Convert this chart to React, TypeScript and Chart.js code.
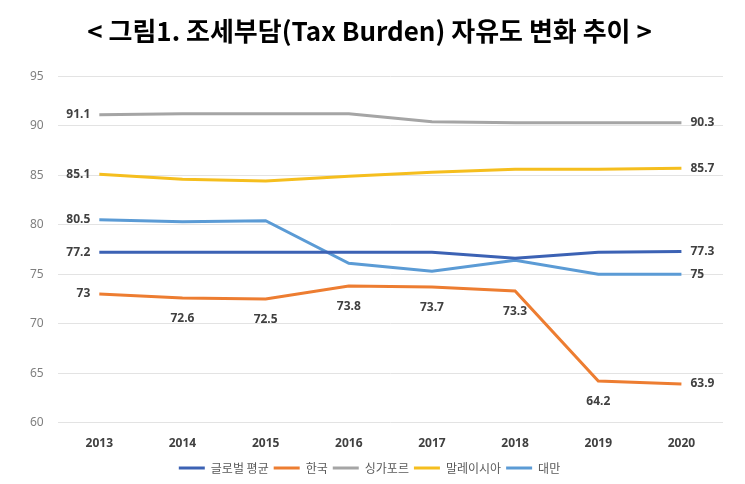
import React, { useEffect, useRef } from "react";
import { Chart, registerables } from "chart.js";

Chart.register(...registerables);

const years = ["2013", "2014", "2015", "2016", "2017", "2018", "2019", "2020"];
const globalAvg = [77.2, 77.2, 77.2, 77.2, 77.2, 76.6, 77.2, 77.3];
const korea = [73, 72.6, 72.5, 73.8, 73.7, 73.3, 64.2, 63.9];
const singapore = [91.1, 91.2, 91.2, 91.2, 90.4, 90.3, 90.3, 90.3];
const malaysia = [85.1, 84.6, 84.4, 84.9, 85.3, 85.6, 85.6, 85.7];
const taiwan = [80.5, 80.3, 80.4, 76.1, 75.3, 76.4, 75, 75];
const seriesNames = ["글로벌 평균", "한국", "싱가포르", "말레이시아", "대만"];
const yTicks = { min: 60, max: 95, step: 5 };
const titleText = "< 그림1. 조세부담(Tax Burden) 자유도 변화 추이 >";

// label placement per dataset: index -> position
const labelPlacement: Record<number, Record<number, string>> = {
  0: { 0: "left", 7: "right" },
  1: { 0: "left", 1: "below", 2: "below", 3: "below", 4: "below", 5: "below", 6: "below", 7: "right" },
  2: { 0: "left", 7: "right" },
  3: { 0: "left", 7: "right" },
  4: { 0: "left", 7: "right" },
};

const labelPlugin = {
  id: "pointLabels",
  afterDatasetsDraw(chart: any) {
    const ctx = chart.ctx;
    ctx.save();
    ctx.font = "bold 12px 'Noto Sans', 'DejaVu Sans', sans-serif";
    ctx.fillStyle = "#404040";
    ctx.textBaseline = "middle";
    chart.data.datasets.forEach((ds: any, di: number) => {
      const meta = chart.getDatasetMeta(di);
      const place = labelPlacement[di] || {};
      meta.data.forEach((pt: any, i: number) => {
        const pos = place[i];
        if (!pos) return;
        const txt = String(ds.data[i]);
        if (pos === "left") {
          ctx.textAlign = "right";
          ctx.fillText(txt, pt.x - 9, pt.y);
        } else if (pos === "right") {
          ctx.textAlign = "left";
          ctx.fillText(txt, pt.x + 9, pt.y);
        } else {
          ctx.textAlign = "center";
          ctx.fillText(txt, pt.x, pt.y + 21);
        }
      });
    });
    ctx.restore();
  },
};

export default function App() {
  const ref = useRef<HTMLCanvasElement>(null);
  useEffect(() => {
    if (!ref.current) return;
    const colors = ["#3C62B4", "#ED7D31", "#A5A5A5", "#F5BE1E", "#5B9BD5"];
    const values = [globalAvg, korea, singapore, malaysia, taiwan];
    const chart = new Chart(ref.current, {
      type: "line",
      data: {
        labels: years,
        datasets: seriesNames.map((name, k) => ({
          label: name,
          data: values[k],
          borderColor: colors[k],
          backgroundColor: colors[k],
          borderWidth: 3,
          pointRadius: 0,
          tension: 0,
        })),
      },
      options: {
        animation: false,
        responsive: false,
        layout: { padding: { left: 16, right: 22, top: 0, bottom: 0 } },
        plugins: {
          title: {
            display: true,
            text: titleText,
            color: "#000",
            font: { family: "'Noto Sans CJK KR'", size: 26, weight: "bold" },
            padding: { top: 16, bottom: 29 },
          },
          legend: {
            position: "bottom",
            labels: {
              usePointStyle: true,
              pointStyle: "line",
              pointStyleWidth: 26,
              color: "#595959",
              font: { family: "'Noto Sans CJK KR'", size: 12 },
              padding: 5,
              boxHeight: 8,
            },
          },
          tooltip: { enabled: false },
        },
        scales: {
          x: {
            offset: true,
            grid: { display: false },
            border: { display: false },
            ticks: {
              color: "#404040",
              font: { family: "'Noto Sans', sans-serif", size: 12, weight: "bold" },
              padding: 6,
            },
          },
          y: {
            min: yTicks.min,
            max: yTicks.max,
            grid: { color: "#E3E3E3", drawTicks: false },
            border: { display: false },
            ticks: {
              stepSize: yTicks.step,
              color: "#7F7F7F",
              font: { family: "'Noto Sans', sans-serif", size: 12 },
              padding: 14,
            },
          },
        },
      },
      plugins: [labelPlugin],
    });
    return () => chart.destroy();
  }, []);
  return (
    <div style={{ position: "fixed", left: 0, top: 0, width: 745, height: 484, background: "#fff" }}>
      <canvas ref={ref} width={745} height={484} />
    </div>
  );
}
